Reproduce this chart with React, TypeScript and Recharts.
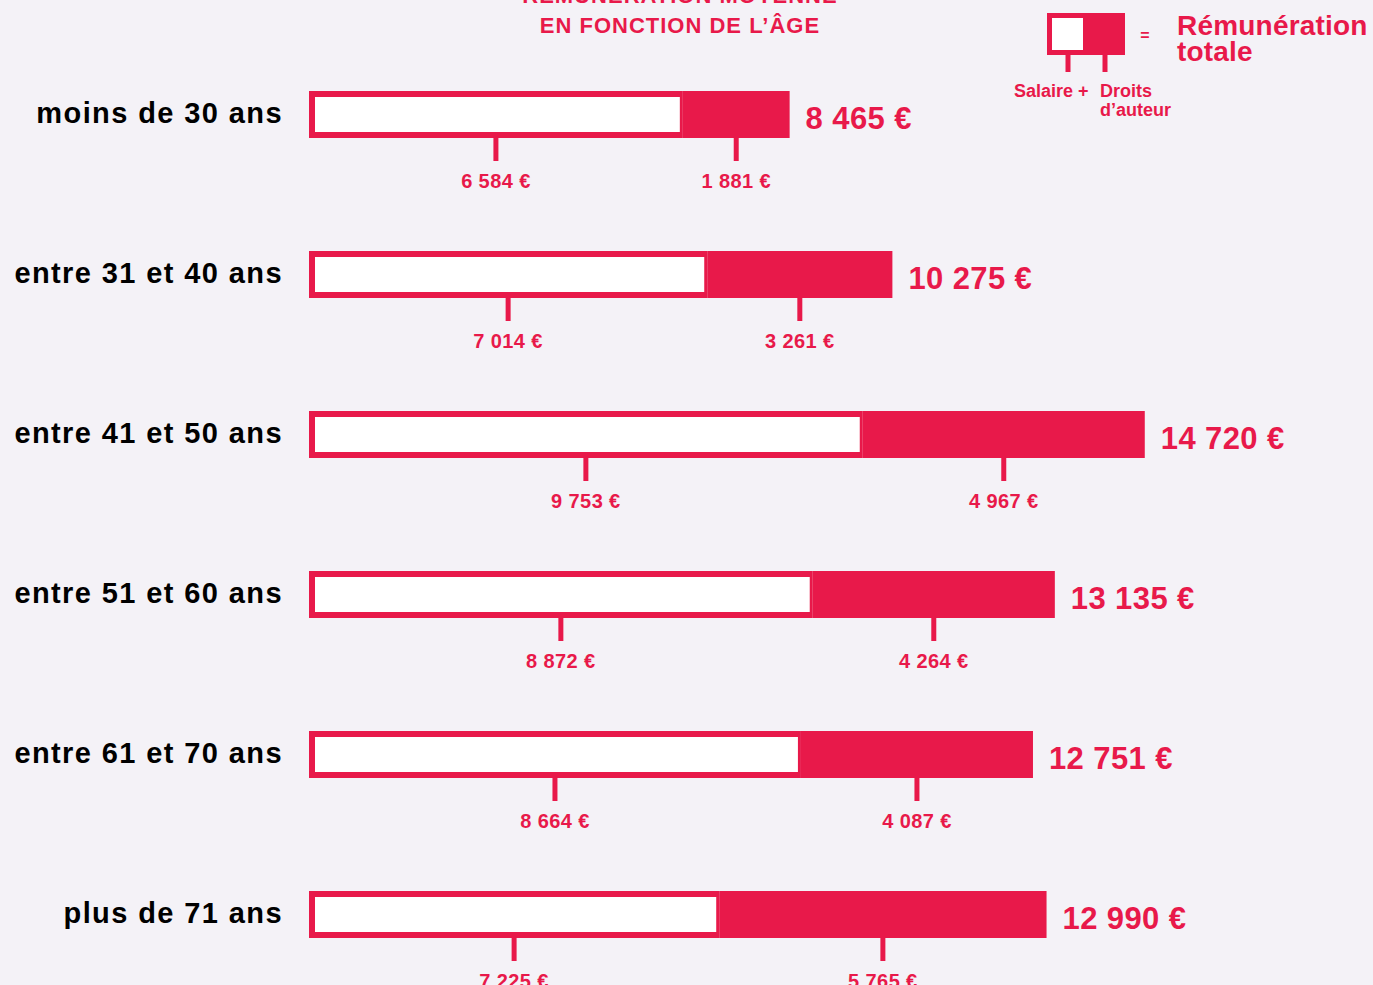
import React from 'react';
import { BarChart, Bar, XAxis, YAxis, LabelList } from 'recharts';

const categories = ['moins de 30 ans', 'entre 31 et 40 ans', 'entre 41 et 50 ans', 'entre 51 et 60 ans', 'entre 61 et 70 ans', 'plus de 71 ans'];
const salaire = [6584, 7014, 9753, 8872, 8664, 7225];
const droits = [1881, 3261, 4967, 4264, 4087, 5765];
const totals = [8465, 10275, 14720, 13135, 12751, 12990];

const RED = '#E8194A';
const BG = '#F4F2F7';
const FONT = '"Liberation Sans", Arial, sans-serif';

const data = categories.map((name, i) => ({ name, salaire: salaire[i], droits: droits[i], total: totals[i] }));

const fmt = (v: number) => `${v.toLocaleString('fr-FR').replace(/[\u202f\u00a0]/g, ' ')} €`;

const SegmentTick = ({ cx, bottom, value }: { cx: number; bottom: number; value: number }) => (
  <g>
    <line x1={cx} x2={cx} y1={bottom} y2={bottom + 23} stroke={RED} strokeWidth={5} />
    <text x={cx} y={bottom + 50} textAnchor="middle" fill={RED} fontFamily={FONT} fontWeight={700} fontSize={20} letterSpacing={0.4}>
      {fmt(value)}
    </text>
  </g>
);

const SalaireShape = (props: any) => {
  const { x, y, width, height, payload } = props;
  return (
    <g>
      <rect x={x} y={y} width={width} height={height} fill={RED} />
      <rect x={x + 6} y={y + 6} width={Math.max(0, width - 9)} height={height - 12} fill="#ffffff" />
      <SegmentTick cx={x + width / 2} bottom={y + height} value={payload.salaire} />
    </g>
  );
};

const DroitsShape = (props: any) => {
  const { x, y, width, height, payload } = props;
  return (
    <g>
      <rect x={x} y={y} width={width} height={height} fill={RED} />
      <SegmentTick cx={x + width / 2} bottom={y + height} value={payload.droits} />
    </g>
  );
};

const TotalLabel = (props: any) => {
  const { x, y, width, height, value } = props;
  return (
    <text x={x + width + 16} y={y + height / 2 + 14} fill={RED} fontFamily={FONT} fontWeight={700} fontSize={31} letterSpacing={0.4}>
      {fmt(value)}
    </text>
  );
};

const CategoryTick = (props: any) => {
  const { x, y, payload } = props;
  return (
    <text x={x} y={y + 9} textAnchor="end" fill="#000" fontFamily={FONT} fontWeight={700} fontSize={29} letterSpacing={1.4}>
      {payload.value}
    </text>
  );
};

export default function App() {
  return (
    <div style={{ position: 'absolute', left: 0, top: 0, width: 1373, height: 985, overflow: 'hidden', background: BG }}>
      <BarChart width={1373} height={994} data={data} layout="vertical" margin={{ top: 34, right: 42, bottom: 0, left: 0 }}>
        <XAxis type="number" domain={[0, 18000]} hide />
        <YAxis type="category" dataKey="name" width={309} axisLine={false} tickLine={false} tickSize={0} tickMargin={26} tick={<CategoryTick />} />
        <Bar dataKey="salaire" stackId="s" barSize={47} shape={<SalaireShape />} isAnimationActive={false} />
        <Bar dataKey="droits" stackId="s" barSize={47} shape={<DroitsShape />} isAnimationActive={false}>
          <LabelList dataKey="total" content={<TotalLabel />} />
        </Bar>
      </BarChart>
      <svg width={1373} height={985} style={{ position: 'absolute', left: 0, top: 0, pointerEvents: 'none' }}>
        <g fontFamily={FONT} fontWeight={700} fill={RED}>
          <text x={680} y={3} textAnchor="middle" fontSize={22} letterSpacing={1}>RÉMUNÉRATION MOYENNE</text>
          <text x={680} y={33} textAnchor="middle" fontSize={22} letterSpacing={1}>EN FONCTION DE L’ÂGE</text>
          <rect x={1047} y={13} width={78} height={42} fill={RED} />
          <rect x={1052} y={18} width={31} height={32} fill="#ffffff" />
          <line x1={1068} x2={1068} y1={55} y2={72} stroke={RED} strokeWidth={5} />
          <line x1={1105} x2={1105} y1={55} y2={72} stroke={RED} strokeWidth={5} />
          <text x={1145} y={41} textAnchor="middle" fontSize={16}>=</text>
          <text x={1177} y={35} fontSize={28} letterSpacing={0.2}>Rémunération</text>
          <text x={1177} y={61} fontSize={28} letterSpacing={0.2}>totale</text>
          <text x={1014} y={97} fontSize={18}>Salaire +</text>
          <text x={1100} y={97} fontSize={18}>Droits</text>
          <text x={1100} y={116} fontSize={18}>d’auteur</text>
        </g>
      </svg>
    </div>
  );
}
